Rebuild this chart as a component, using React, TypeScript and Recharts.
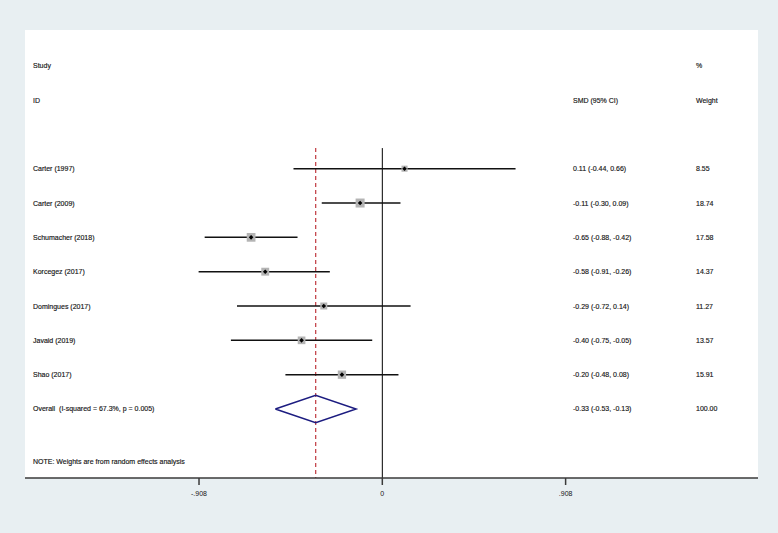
import React from 'react';
import {
  ComposedChart, XAxis, YAxis, Scatter, ErrorBar, Line, ReferenceLine, CartesianGrid,
} from 'recharts';

const studies = ['Carter (1997)', 'Carter (2009)', 'Schumacher (2018)', 'Korcegez (2017)', 'Domingues (2017)', 'Javaid (2019)', 'Shao (2017)'];
const smd = [0.11, -0.11, -0.65, -0.58, -0.29, -0.40, -0.20];
const lower = [-0.44, -0.30, -0.88, -0.91, -0.72, -0.75, -0.48];
const upper = [0.66, 0.09, -0.42, -0.26, 0.14, -0.05, 0.08];
const weights = [8.55, 18.74, 17.58, 14.37, 11.27, 13.57, 15.91];
const overall = { smd: -0.33, lower: -0.53, upper: -0.13, weight: 100 };
const overallLabel = 'Overall  (I-squared = 67.3%, p = 0.005)';
const note = 'NOTE: Weights are from random effects analysis';
const xTicks = [-0.908, 0, 0.908];

const FONT = '"Liberation Sans", Arial, sans-serif';
const FIRST_ROW = 3; // rows 0-1 are headers, 2 is blank
const OVERALL_ROW = FIRST_ROW + studies.length;
const NOTE_ROW = OVERALL_ROW + 1.53;
const X_DOMAIN: [number, number] = [-1.77, 1.861];
const Y_DOMAIN: [number, number] = [-1.04, 12.01];

const fmt = (v: number) => v.toFixed(2);
const ciText = (e: number, l: number, u: number) => `${fmt(e)} (${fmt(l)}, ${fmt(u)})`;

const studyRows = studies.map((name, i) => ({
  x: smd[i],
  y: FIRST_ROW + i,
  err: [smd[i] - lower[i], upper[i] - smd[i]],
  w: weights[i],
}));

// diamond outline for the pooled estimate
const DH = 0.4;
const diamond = [
  { x: overall.lower, y: OVERALL_ROW },
  { x: overall.smd, y: OVERALL_ROW - DH },
  { x: overall.upper, y: OVERALL_ROW },
  { x: overall.smd, y: OVERALL_ROW + DH },
  { x: overall.lower, y: OVERALL_ROW },
];

const COL_STUDY = 33;
const COL_SMD = 573;
const COL_W = 696;

const textRows = [
  { x: 0, y: 0, items: [['Study', COL_STUDY], ['%', COL_W]] },
  { x: 0, y: 1, items: [['ID', COL_STUDY], ['SMD (95% CI)', COL_SMD], ['Weight', COL_W]] },
  ...studies.map((name, i) => ({
    x: 0,
    y: FIRST_ROW + i,
    items: [[name, COL_STUDY], [ciText(smd[i], lower[i], upper[i]), COL_SMD], [fmt(weights[i]), COL_W]],
  })),
  {
    x: 0,
    y: OVERALL_ROW,
    items: [[overallLabel, COL_STUDY], [ciText(overall.smd, overall.lower, overall.upper), COL_SMD], [fmt(overall.weight), COL_W]],
  },
  { x: 0, y: NOTE_ROW, items: [[note, COL_STUDY]] },
];

const TextShape = (props: any) => {
  const { cy, payload } = props;
  return (
    <g>
      {payload.items.map(([t, px]: [string, number], k: number) => (
        <text key={k} x={px} y={cy} dominantBaseline="central" fontSize={7} fontFamily={FONT}
          fill="#151515" stroke="#151515" strokeWidth={0.15} style={{ whiteSpace: 'pre' }}>
          {t}
        </text>
      ))}
    </g>
  );
};

const StudyMarker = (props: any) => {
  const { cx, cy, payload } = props;
  const s = 2.08 * Math.sqrt(payload.w);
  const d = 2.3;
  return (
    <g>
      <rect x={cx - s / 2} y={cy - s / 2} width={s} height={s} fill="#b4b4b4" />
      <polygon points={`${cx - d},${cy} ${cx},${cy - d} ${cx + d},${cy} ${cx},${cy + d}`} fill="#000" />
    </g>
  );
};

const tickFmt = (v: number) => String(v).replace(/^(-?)0\./, '$1.');

export default function App() {
  return (
    <div style={{ position: 'absolute', left: 0, top: 0, width: 778, height: 533, background: '#e8eff2' }}>
      <ComposedChart width={778} height={533} margin={{ top: 30, right: 20, bottom: 30, left: 25 }}>
        <CartesianGrid horizontal={false} vertical={false} fill="#ffffff" fillOpacity={1} />
        <XAxis
          type="number"
          dataKey="x"
          domain={X_DOMAIN}
          allowDataOverflow
          ticks={xTicks}
          interval={0}
          tickFormatter={tickFmt}
          height={25}
          stroke="#3a3a3a"
          strokeWidth={1.5}
          tickSize={7}
          tickMargin={6}
          tick={{ fontSize: 7, fontFamily: FONT, fill: '#151515' }}
        />
        <YAxis type="number" dataKey="y" domain={Y_DOMAIN} reversed hide allowDataOverflow width={0} />
        <ReferenceLine
          segment={[{ x: 0, y: 2.4 }, { x: 0, y: Y_DOMAIN[1] }]}
          stroke="#000"
          strokeWidth={1}
        />
        <ReferenceLine
          segment={[{ x: overall.smd, y: 2.4 }, { x: overall.smd, y: Y_DOMAIN[1] }]}
          stroke="#c0393f"
          strokeWidth={1.2}
          strokeDasharray="4 3"
        />
        <Scatter data={studyRows} shape={<StudyMarker />} isAnimationActive={false}>
          <ErrorBar dataKey="err" direction="x" width={0} stroke="#111" strokeWidth={1.5} />
        </Scatter>
        <Line
          data={diamond}
          dataKey="y"
          type="linear"
          stroke="#1c1c80"
          strokeWidth={1.5}
          dot={false}
          isAnimationActive={false}
        />
        <Scatter data={textRows} shape={<TextShape />} isAnimationActive={false} />
      </ComposedChart>
    </div>
  );
}
